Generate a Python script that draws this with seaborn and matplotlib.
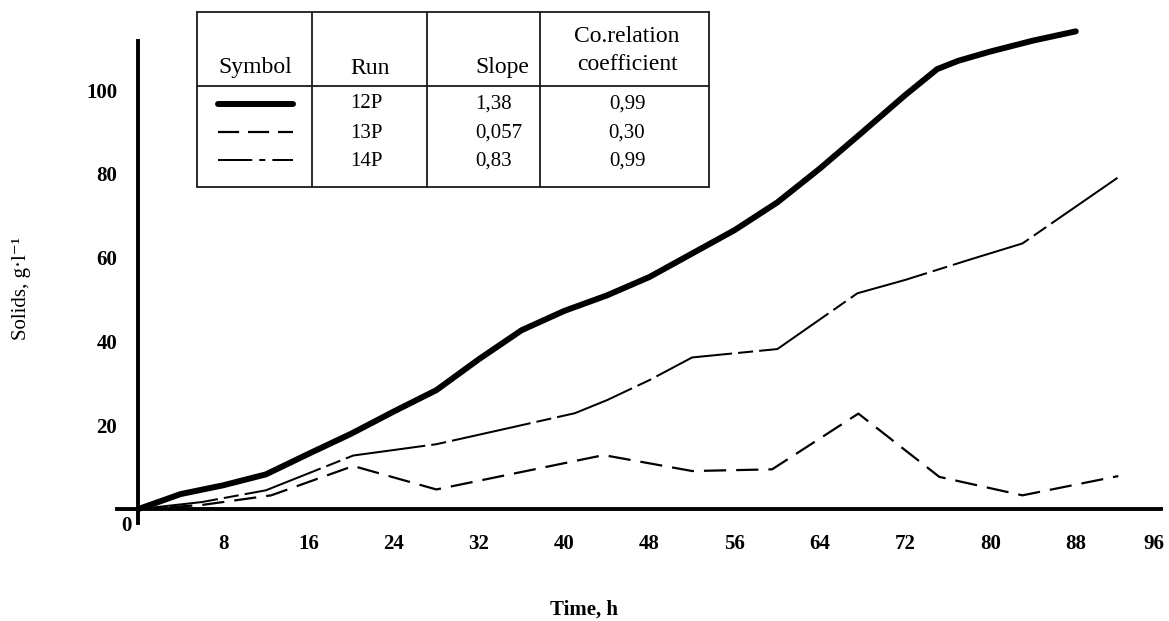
import numpy as np
import pandas as pd
import matplotlib
matplotlib.use("Agg")
import matplotlib.pyplot as plt
import matplotlib.transforms as mtransforms
import seaborn as sns

# ---------------- data ----------------
runs = ["12P", "13P", "14P"]
slopes = ["1,38", "0,057", "0,83"]
corr = ["0,99", "0,30", "0,99"]

time_12p = [0, 4, 8, 12, 16, 20, 24, 28, 32, 36, 40, 44, 48, 52, 56, 60, 64, 68, 72, 75, 77, 80, 84, 88]
solids_12p = [0, 3.6, 5.7, 8.3, 13.2, 18, 23.3, 28.4, 35.8, 42.7, 47.3, 51, 55.4, 61, 66.6, 73.2, 81.3, 90, 98.8, 105, 107, 109.2, 111.8, 114]

time_13p = [0, 6, 12.5, 20.2, 28, 43.7, 52, 59.5, 67.6, 75.2, 83, 92]
solids_13p = [0, 1, 3.3, 10.3, 4.7, 12.9, 9.1, 9.5, 22.8, 7.7, 3.3, 7.9]

time_14p = [0, 6, 12, 20.2, 28, 34, 41, 44, 48, 52, 60, 67.5, 72, 78, 83, 92]
solids_14p = [0, 1.7, 4.5, 12.8, 15.5, 18.9, 22.9, 26, 30.8, 36.2, 38.2, 51.5, 54.7, 59.5, 63.4, 79.2]

x_ticks = [8, 16, 24, 32, 40, 48, 56, 64, 72, 80, 88, 96]
y_ticks = [20, 40, 60, 80, 100]

# ---------------- styling ----------------
sns.set_style("white")
plt.rcParams["font.family"] = ["Liberation Serif", "DejaVu Serif"]
plt.rcParams["text.color"] = "black"
plt.rcParams["axes.labelcolor"] = "black"
plt.rcParams["xtick.color"] = "black"
plt.rcParams["ytick.color"] = "black"

W, H = 1169, 621
fig = plt.figure(figsize=(W / 100, H / 100), dpi=100)
fig.patch.set_facecolor("white")

ax_l, ax_r, ax_t, ax_b = 116.7, 1161.0, 41.0, 523.0
ax = fig.add_axes([ax_l / W, 1 - ax_b / H, (ax_r - ax_l) / W, (ax_b - ax_t) / H])
ax.set_facecolor("white")

df = pd.concat([
    pd.DataFrame({"time": time_12p, "solids": solids_12p, "run": "12P"}),
    pd.DataFrame({"time": time_13p, "solids": solids_13p, "run": "13P"}),
    pd.DataFrame({"time": time_14p, "solids": solids_14p, "run": "14P"}),
], ignore_index=True)

sns.lineplot(
    data=df, x="time", y="solids", hue="run", style="run", size="run",
    palette={"12P": "black", "13P": "black", "14P": "black"},
    dashes={"12P": "", "13P": (10, 4.5), "14P": (40, 3, 7.5, 3)},
    sizes={"12P": 4.3, "13P": 1.6, "14P": 1.45},
    estimator=None, sort=False, legend=False, ax=ax,
)
for ln in ax.lines:
    ln.set_solid_capstyle("round")
    ln.set_dash_capstyle("butt")
    ln.set_solid_joinstyle("round")
    ln.set_clip_on(False)

ax.set_xlim(-2, 96)
ax.set_ylim(-3.3, 111.7)

for s in ["top", "right"]:
    ax.spines[s].set_visible(False)
ax.spines["left"].set_position(("data", 0))
ax.spines["bottom"].set_position(("data", 0))
for s in ["left", "bottom"]:
    ax.spines[s].set_linewidth(2.8)
    ax.spines[s].set_color("black")

ax.set_xticks(x_ticks)
ax.set_yticks(y_ticks)
ax.set_xticklabels([str(v) for v in x_ticks])
ax.set_yticklabels([str(v) for v in y_ticks])
ax.tick_params(axis="x", direction="out", length=9.4, width=2.2, pad=8.5,
               labelsize=15, colors="black")
ax.tick_params(axis="y", direction="out", length=10, width=2.2, pad=5,
               labelsize=15, colors="black")
for lbl in ax.get_xticklabels() + ax.get_yticklabels():
    lbl.set_fontweight("bold")
# keep the last x tick label ("96") inside the canvas
last = ax.xaxis.get_major_ticks()[-1].label1
last.set_transform(last.get_transform() +
                   mtransforms.ScaledTranslation(-7 / 100, 0, fig.dpi_scale_trans))
ax.grid(False)

ax.text(-1.1, -4.0, "0", ha="center", va="center", fontsize=15,
        fontweight="bold", clip_on=False)

ax.set_xlabel("Time, h", fontsize=15, fontweight="bold")
ax.xaxis.label.set_va("center")
ax.xaxis.set_label_coords((584 - ax_l) / (ax_r - ax_l), (ax_b - 610) / (ax_b - ax_t))
ax.set_ylabel("Solids, g·l\u207b\u00b9", fontsize=15)
ax.yaxis.label.set_va("center")
ax.yaxis.set_label_coords((22 - ax_l) / (ax_r - ax_l), (ax_b - 288) / (ax_b - ax_t))

# ---------------- table (legend box) ----------------
tax = fig.add_axes([0, 0, 1, 1], zorder=5)
tax.set_xlim(0, W)
tax.set_ylim(H, 0)
tax.axis("off")
tax.patch.set_alpha(0)

cols = [197, 312, 427, 540, 709]
rows = [12, 86, 187]
tax.add_patch(plt.Rectangle((cols[0], rows[0]), cols[-1] - cols[0], rows[-1] - rows[0],
                            facecolor="white", edgecolor="none", zorder=1))
for yv in rows:
    tax.plot([cols[0], cols[-1]], [yv, yv], color="#1a1a1a", lw=1.3, zorder=2)
for xv in cols:
    tax.plot([xv, xv], [rows[0], rows[-1]], color="#1a1a1a", lw=1.3, zorder=2)

hdr_fs = 17
body_fs = 15
tax.text(255, 68, "Symbol", ha="center", va="center", fontsize=hdr_fs)
tax.text(350, 68, "Run", ha="left", va="center", fontsize=hdr_fs)
tax.text(475, 68, "Slope", ha="left", va="center", fontsize=hdr_fs)
tax.text(627, 37, "Co.relation", ha="center", va="center", fontsize=hdr_fs)
tax.text(627, 65, "coefficient", ha="center", va="center", fontsize=hdr_fs)

row_y = [104, 133, 161]
for i, r in enumerate(runs):
    tax.text(350, row_y[i], r, ha="left", va="center", fontsize=body_fs)
    tax.text(475, row_y[i], slopes[i], ha="left", va="center", fontsize=body_fs)
    tax.text(627, row_y[i], corr[i], ha="center", va="center", fontsize=body_fs)

# symbol samples
tax.plot([218, 293], [row_y[0], row_y[0]], color="black", lw=4.3,
         solid_capstyle="round", zorder=3)
tax.plot([218, 293], [row_y[1] - 1, row_y[1] - 1], color="black", lw=1.6,
         linestyle=(0, (9.5, 4.0)), zorder=3)
tax.plot([218, 293], [row_y[2] - 1, row_y[2] - 1], color="black", lw=1.45,
         linestyle=(0, (17, 3.5, 3, 3.5)), zorder=3)

fig.savefig("out.png", dpi=100, facecolor="white")
